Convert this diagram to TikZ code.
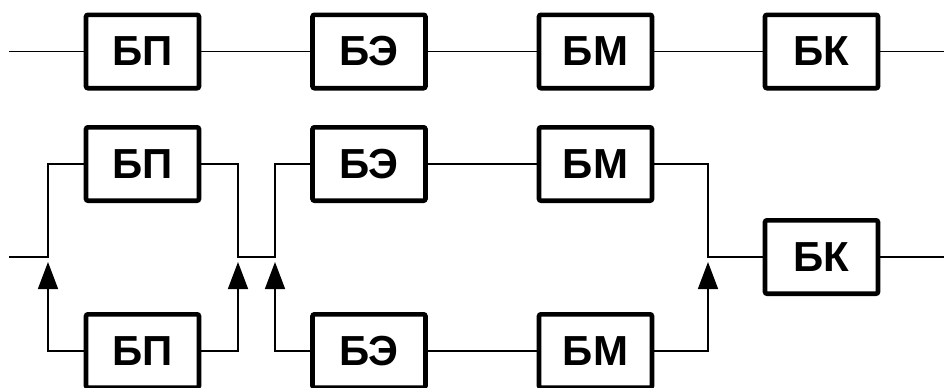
\documentclass[tikz,border=0pt]{standalone}
\usepackage{fontspec}
\setmainfont{Liberation Sans}
\usepackage{tikz}
\usetikzlibrary{arrows.meta}

\begin{document}
\begin{tikzpicture}[x=0.5pt,y=-0.5pt]
\tikzstyle{block}=[draw,line width=2.3pt,rounded corners=1pt,minimum width=56.5pt,minimum height=36.7pt,inner sep=0pt,font=\fontsize{21}{25}\selectfont\bfseries]
\tikzstyle{wire}=[line width=0.75pt]
\tikzstyle{arr}=[wire,-{Triangle[length=13.5pt,width=10pt]}]
\useasboundingbox (0,0) rectangle (944,387);
\foreach \name/\point/\txt in {
	p1/{142.5,51.5}/БП,
	e1/{369,51.5}/БЭ,
	m1/{595.5,51.5}/БМ,
	k1/{821.5,51.5}/БК,
	p2/{142.5,164}/БП,
	e2/{369,164}/БЭ,
	m2/{595.5,164}/БМ,
	p3/{142.5,351}/БП,
	e3/{369,351}/БЭ,
	m3/{595.5,351}/БМ,
	k2/{821.5,257}/БК}
	\node[block] (\name) at (\point) {\txt};
\foreach \name/\point in {
	in1/{9,51.5},
	out1/{944,51.5},
	in2/{9,257},
	s1/{48,257},
	j1/{238,257},
	j2/{275,257},
	j3/{708,257},
	out2/{944,257},
	tip1/{48,262},
	tip2/{238,262},
	tip3/{275,262},
	tip4/{708,262}}
	\coordinate (\name) at (\point);
% first line
\draw[wire] (in1) -- (p1) -- (e1) -- (m1) -- (k1) -- (out1);
% second line
\draw[wire] (in2) -- (s1) |- (p2);
\draw[wire] (p2) -| (j1) -- (j2) |- (e2);
\draw[wire] (e2) -- (m2);
\draw[wire] (m2) -| (j3) -- (k2) -- (out2);
\draw[wire] (e3) -- (m3);
\draw[arr] (p3) -| (tip1);
\draw[arr] (p3) -| (tip2);
\draw[arr] (e3) -| (tip3);
\draw[arr] (m3) -| (tip4);
\end{tikzpicture}
\end{document}
